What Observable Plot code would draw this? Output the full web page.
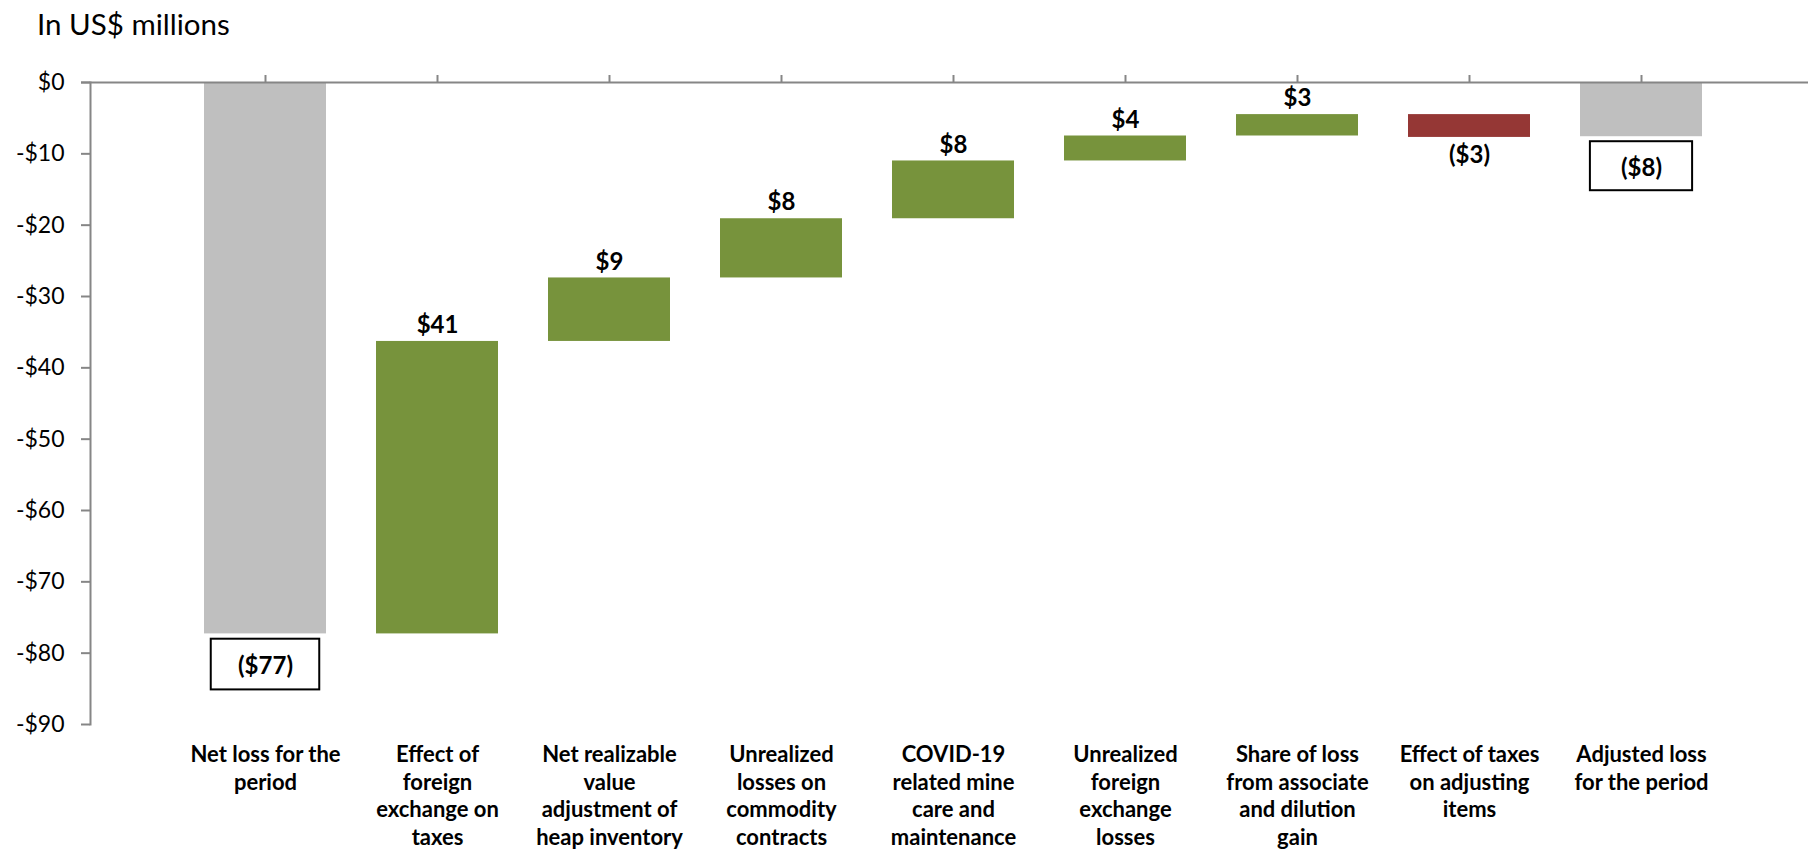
<!DOCTYPE html>
<html>
<head>
<meta charset="utf-8">
<script src="https://cdn.jsdelivr.net/npm/d3@7"></script>
<script src="https://cdn.jsdelivr.net/npm/@observablehq/plot@0.6"></script>
<style>
  html, body { margin: 0; padding: 0; background: #fff; overflow: hidden; }
  #title { position: relative; height: 60px; font-family: Lato, sans-serif; }
  #title span { position: absolute; left: 37px; top: 6px; font-size: 29.5px; line-height: normal; color: #000; white-space: nowrap; }
  #chart svg { display: block; overflow: visible; }
</style>
</head>
<body>
<div id="title"><span>In US$ millions</span></div>
<div id="chart"></div>
<script>
// ---- data ----
const categories = [
  "Net loss for the\nperiod",
  "Effect of\nforeign\nexchange on\ntaxes",
  "Net realizable\nvalue\nadjustment of\nheap inventory",
  "Unrealized\nlosses on\ncommodity\ncontracts",
  "COVID-19\nrelated mine\ncare and\nmaintenance",
  "Unrealized\nforeign\nexchange\nlosses",
  "Share of loss\nfrom associate\nand dilution\ngain",
  "Effect of taxes\non adjusting\nitems",
  "Adjusted loss\nfor the period"
];
const values = [-77.3, 41.0, 8.9, 8.3, 8.1, 3.5, 3.0, -3.2, -7.6];
const valueLabels = ["($77)", "$41", "$9", "$8", "$8", "$4", "$3", "($3)", "($8)"];
const kinds = ["total", "change", "change", "change", "change", "change", "change", "change", "total"];
const yTicks = [-90, -80, -70, -60, -50, -40, -30, -20, -10, 0];

// ---- styles ----
const GRAY = "#BFBFBF", GREEN = "#77933C", RED = "#953735", AXIS = "#868686";
const FONT = "Lato, sans-serif";

// ---- waterfall rows ----
let running = 0;
const rows = categories.map((cat, i) => {
  let start, end;
  if (kinds[i] === "total") { start = 0; end = values[i]; }
  else { start = running; end = running + values[i]; }
  running = end;
  return {cat, value: values[i], label: valueLabels[i], kind: kinds[i], start, end, idx: i};
});
const colorOf = d => d.kind === "total" ? GRAY : (d.value > 0 ? GREEN : RED);
const totals = rows.filter(d => d.kind === "total");
const posChanges = rows.filter(d => d.kind === "change" && d.value > 0);
const negChanges = rows.filter(d => d.kind === "change" && d.value < 0);

const chart = Plot.plot({
  width: 1808,
  height: 793,
  marginTop: 22,
  marginBottom: 129,
  marginLeft: 90,
  marginRight: 0,
  style: {fontFamily: FONT, color: "#000", background: "#fff", overflow: "visible"},
  x: {domain: categories, paddingInner: 0.291, paddingOuter: 0.6195, align: 0.5175, axis: null},
  y: {domain: [-90, 0], axis: null},
  marks: [
    Plot.barY(rows, {x: "cat", y1: "start", y2: "end", fill: colorOf}),
    // boxes around total labels
    Plot.barY(totals.filter(d => d.idx === 0), {x: "cat", y1: "end", y2: "end", insetLeft: 6.75, insetRight: 6.75, insetTop: 5.3, insetBottom: -56, fill: "#fff", stroke: "#000", strokeWidth: 2}),
    Plot.barY(totals.filter(d => d.idx !== 0), {x: "cat", y1: "end", y2: "end", insetLeft: 9.9, insetRight: 9.9, insetTop: 5, insetBottom: -54, fill: "#fff", stroke: "#000", strokeWidth: 2}),
    // axes
    Plot.frame({anchor: "left", stroke: AXIS, strokeWidth: 2}),
    Plot.ruleY([0], {stroke: AXIS, strokeWidth: 2, insetLeft: -9}),
    Plot.axisY({ticks: yTicks, tickFormat: d => d === 0 ? "$0" : "-$" + Math.abs(d), tickSize: 9, tickPadding: 17, stroke: AXIS, strokeWidth: 2, fill: "#000", fontSize: 23, label: null}),
    Plot.axisX({anchor: "top", tickSize: 8, tickFormat: () => "", stroke: AXIS, strokeWidth: 2, label: null}),
    // value labels
    Plot.text(posChanges, {x: "cat", y: "end", text: "label", dy: -16, fontWeight: "bold", fontSize: 24, fill: "#000"}),
    Plot.text(negChanges, {x: "cat", y: "end", text: "label", dy: 18, fontWeight: "bold", fontSize: 24, fill: "#000"}),
    Plot.text(totals, {x: "cat", y: "end", text: "label", dy: 32, fontWeight: "bold", fontSize: 24, fill: "#000"}),
    // category labels
    Plot.text(rows, {x: "cat", text: "cat", frameAnchor: "bottom", lineAnchor: "top", dy: 18, fontWeight: "bold", fontSize: 22, lineHeight: 1.25, fill: "#000"})
  ]
});
document.getElementById("chart").appendChild(chart);
</script>
</body>
</html>
